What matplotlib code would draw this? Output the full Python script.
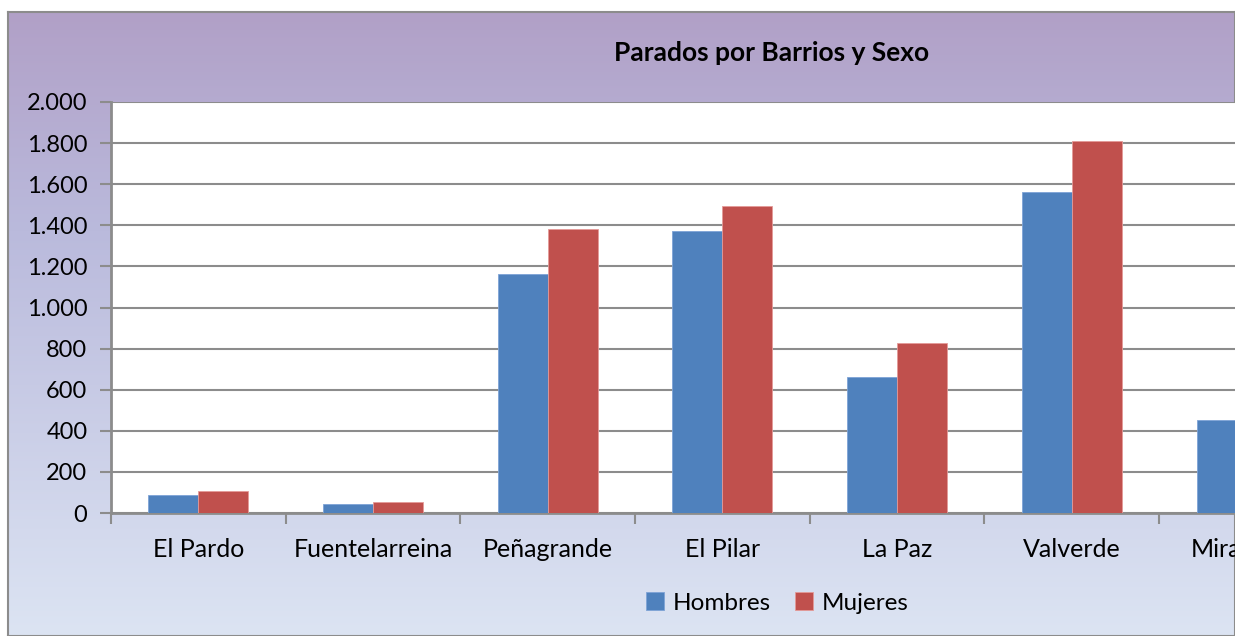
import numpy as np
import matplotlib
matplotlib.use("Agg")
import matplotlib.pyplot as plt

categories = ["El Pardo", "Fuentelarreina", "Peñagrande", "El Pilar", "La Paz", "Valverde", "Mirasierra"]
hombres = [86, 44, 1161, 1371, 662, 1562, 451]
mujeres = [107, 53, 1380, 1494, 827, 1809, 520]
yticks = [0, 200, 400, 600, 800, 1000, 1200, 1400, 1600, 1800, 2000]
ytick_labels = ["0", "200", "400", "600", "800", "1.000", "1.200", "1.400", "1.600", "1.800", "2.000"]

W, H = 1235, 636
FONT = ["Lato", "DejaVu Sans"]
fig = plt.figure(figsize=(W / 100, H / 100), dpi=100)
fig.patch.set_facecolor("white")

# gradient chart-area background
bg = fig.add_axes([8 / W, 0, 1 - 8 / W, 1 - 12 / H])
top = np.array([177, 160, 199]) / 255
mid = np.array([186, 186, 220]) / 255
bot = np.array([220, 228, 243]) / 255
n = 256
t = np.linspace(0, 1, n)[:, None]
grad = np.where(t < 0.35, top + (mid - top) * (t / 0.35), mid + (bot - mid) * ((t - 0.35) / 0.65))
bg.imshow(grad[:, None, :], aspect="auto", extent=[0, 1, 0, 1], origin="upper")
bg.set_xlim(0, 1); bg.set_ylim(0, 1)
bg.set_xticks([]); bg.set_yticks([])
for s in bg.spines.values():
    s.set_color("#8c8c8c")
    s.set_linewidth(1.5)

# plot area
left_px, bottom_px, top_px = 111, 513, 102
cat_w = 174.7
ncat = len(categories)
ax = fig.add_axes([left_px / W, (H - bottom_px) / H, ncat * cat_w / W, (bottom_px - top_px) / H])
ax.set_facecolor("white")
x = np.arange(ncat)
bw = 0.286
blue = "#4f81bd"
red = "#c0504d"
ax.bar(x - bw / 2, hombres, bw, color=blue, edgecolor="#7ea3d6", linewidth=0.6, zorder=3, label="Hombres")
ax.bar(x + bw / 2, mujeres, bw, color=red, edgecolor="#e49a98", linewidth=0.6, zorder=3, label="Mujeres")
ax.set_xlim(-0.5, ncat - 0.5)
ax.set_ylim(0, 2000)
ax.set_yticks(yticks)
ax.set_yticklabels(ytick_labels, fontsize=17, family=FONT)
ax.yaxis.grid(True, color="#8c8c8c", linewidth=1.5, zorder=1)
ax.set_xticks(x)
ax.set_xticklabels(categories, fontsize=18, family=FONT)
ax.set_xticks(np.arange(ncat + 1) - 0.5, minor=True)
ax.tick_params(axis="x", which="major", length=0, pad=18)
ax.tick_params(axis="x", which="minor", length=8, width=1.5, color="#8c8c8c")
ax.tick_params(axis="y", length=8, width=1.5, color="#8c8c8c", pad=9)
for side in ["top", "right"]:
    ax.spines[side].set_visible(False)
for side in ["left", "bottom"]:
    ax.spines[side].set_color("#8c8c8c")
    ax.spines[side].set_linewidth(2)

fig.text(772 / W, 1 - 53 / H, "Parados por Barrios y Sexo", ha="center", va="center",
         fontsize=19, fontweight="bold", family=FONT)

fig.legend(loc="center", bbox_to_anchor=(777 / W, 1 - 603 / H), ncol=2, frameon=False,
           prop={"family": FONT, "size": 17.5}, handlelength=0.75, handleheight=0.75,
           handletextpad=0.35, columnspacing=1.0)

fig.savefig("out.png", dpi=100)
